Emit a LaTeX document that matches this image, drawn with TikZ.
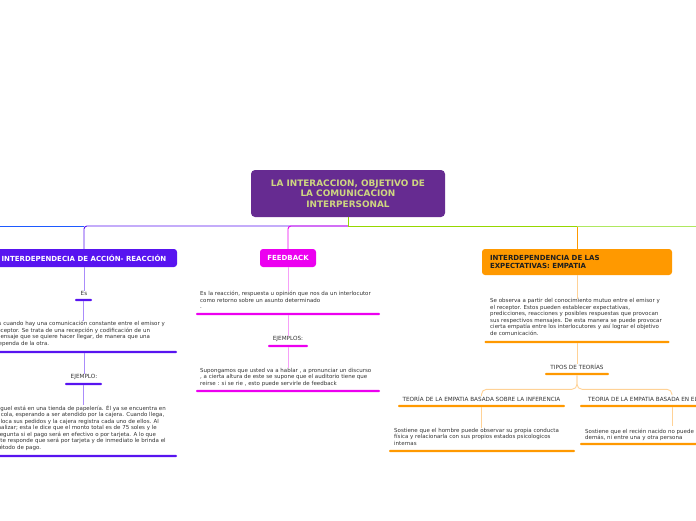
\documentclass[tikz,border=0pt]{standalone}
\usepackage{fontspec}
\setmainfont{DejaVu Sans}
\usetikzlibrary{calc}
\definecolor{cpurple}{RGB}{102,43,145}
\definecolor{ctext}{RGB}{206,214,128}
\definecolor{cviolet}{RGB}{88,20,240}
\definecolor{lviolet}{RGB}{170,140,250}
\definecolor{cmag}{RGB}{236,0,240}
\definecolor{lmag}{RGB}{246,160,248}
\definecolor{corange}{RGB}{255,153,0}
\definecolor{lorange}{RGB}{255,210,150}
\definecolor{cgreen}{RGB}{150,215,0}
\definecolor{lgreen}{RGB}{175,232,95}
\definecolor{cblue}{RGB}{30,90,255}
\definecolor{ctxt}{RGB}{50,50,50}
\begin{document}
\begin{tikzpicture}[x=1pt,y=-1pt,
  txt/.style={font=\fontsize{5.5}{6.5}\selectfont, text=ctxt, inner sep=0, align=left, anchor=north west},
  lbl/.style={font=\fontsize{5.7}{6.5}\selectfont, text=ctxt, inner sep=0},
  bar/.style={fill=#1, draw=none, inner sep=0, minimum height=2.2pt, rounded corners=1pt},
  topic/.style={fill=#1, draw=none, rounded corners=3pt, inner sep=0, font=\bfseries\fontsize{7}{8.2}\selectfont},
  main/.style={line width=0.9pt},
  sub/.style={line width=0.9pt}
]
\useasboundingbox (0,0) rectangle (696,520);
\clip (0,0) rectangle (696,520);

% root
\node[fill=cpurple, rounded corners=4pt, minimum width=194pt, minimum height=47pt,
  inner sep=0, text=ctext, align=center, font=\bfseries\fontsize{8.9}{10.6}\selectfont]
  (root) at (348,193.5) {LA INTERACCION, OBJETIVO DE\\LA COMUNICACION\\INTERPERSONAL};

% main topics
\node[topic=cviolet, text=white, minimum width=186pt, minimum height=18pt] (n1) at (84,258) {INTERDEPENDECIA DE ACCIÓN- REACCIÓN};
\node[topic=cmag, text=white, minimum width=56pt, minimum height=18pt] (fb) at (288,258) {FEEDBACK};
\node[topic=corange, text=ctxt!60!black, minimum width=190pt, minimum height=26pt, text width=174pt, align=left] (n3) at (577,262) {INTERDEPENDENCIA DE LAS\\EXPECTATIVAS: EMPATIA};

% main connectors
\coordinate (hub) at (348,226);
\coordinate (leftend) at (0,226);
\coordinate (rightend) at (696,226);
\coordinate (j1) at (84,226);
\coordinate (j3) at (577,226);
\draw[main, cblue] (j1) -- (leftend);
\draw[main, cviolet, rounded corners=3pt] (hub) -| (n1.north);
\draw[main, cmag, rounded corners=3pt] (hub) -| (fb.north);
\draw[main, corange] (j3) -- (n3.north);
\draw[main, lgreen] (j3) -- (rightend);
\draw[main, cgreen] (root.south) -- (hub) -- (j3);

% left branch
\node[lbl] (es) at (84,293) {Es};
\node[bar=cviolet, minimum width=17pt] (esb) at (83.5,300) {};
\node[txt] (p1) at (-5,321) {Es cuando hay una comunicación constante entre el emisor y\\receptor. Se trata de una recepción y codificación de un\\mensaje que se quiere hacer llegar, de manera que una\\dependa de la otra.};
\node[bar=cviolet, minimum width=186pt] (p1b) at (84,352) {};
\node[lbl] (ej1) at (84,377) {EJEMPLO:};
\node[bar=cviolet, minimum width=37pt] (ej1b) at (83.5,384) {};
\node[txt] (p2) at (-6,405) {Miguel está en una tienda de papelería. Él ya se encuentra en\\la cola, esperando a ser atendido por la cajera. Cuando llega,\\coloca sus pedidos y la cajera registra cada uno de ellos. Al\\finalizar; esta le dice que el monto total es de 75 soles y le\\pregunta si el pago será en efectivo o por tarjeta. A lo que\\éste responde que será por tarjeta y de inmediato le brinda el\\método de pago.};
\node[bar=cviolet, minimum width=186pt] (p2b) at (84,456) {};
\draw[sub, lviolet] (n1.south) -- (es.north);
\draw[sub, lviolet] (esb.south) -- (esb.south |- p1.north);
\draw[sub, lviolet] (p1b.south) -- (ej1.north);
\draw[sub, lviolet] (ej1b.south) -- (ej1b.south |- p2.north);

% feedback branch
\node[txt] (p3) at (200,291) {Es la reacción, respuesta u opinión que nos da un interlocutor\\como retorno sobre un asunto determinado\\.};
\node[bar=cmag, minimum width=184pt] (p3b) at (288,314) {};
\node[lbl] (ej2) at (288,339) {EJEMPLOS:};
\node[bar=cmag, minimum width=40pt] (ej2b) at (288,346) {};
\node[txt] (p4) at (200,368) {Supongamos que usted va a hablar , a pronunciar un discurso\\, a cierta altura de este se supone que el auditorio tiene que\\reirse : si se rie , esto puede servirle de feedback};
\node[bar=cmag, minimum width=184pt] (p4b) at (288,391) {};
\draw[sub, lmag] (fb.south) -- (fb.south |- p3.north);
\draw[sub, lmag] (p3b.south) -- (ej2.north);
\draw[sub, lmag] (ej2b.south) -- (ej2b.south |- p4.north);

% empathy branch
\node[txt] (p5) at (490,298.5) {Se observa a partir del conocimiento mutuo entre el emisor y\\el receptor. Estos pueden establecer expectativas,\\predicciones, reacciones y posibles respuestas que provocan\\sus respectivos mensajes. De esta manera se puede provocar\\cierta empatía entre los interlocutores y así lograr el objetivo\\de comunicación.};
\node[bar=corange, minimum width=185pt] (p5b) at (577,342) {};
\node[lbl] (tipos) at (577,367) {TIPOS DE TEORÍAS};
\node[bar=corange, minimum width=64pt] (tb) at (577,374) {};
\node[lbl] (c1) at (481.5,399) {TEORÍA DE LA EMPATIA BASADA SOBRE LA INFERENCIA};
\node[bar=corange, minimum width=167pt] (c1b) at (481.5,406) {};
\node[lbl, anchor=west] (c2) at (588,399) {TEORIA DE LA EMPATIA BASADA EN EL};
\node[bar=corange, minimum width=184pt] (c2b) at (672,406) {};
\coordinate (c2top) at (672,395);
\node[txt] (p6) at (394,428) {Sostiene que el hombre puede observar su propia conducta\\física y relacionarla con sus propios estados psicologicos\\internas};
\node[bar=corange, minimum width=186pt] (p6b) at (482,451) {};
\node[txt] (p7) at (585,428.5) {Sostiene que el recién nacido no puede\\demás, ni entre una y otra persona};
\node[bar=corange, minimum width=184pt] (p7b) at (672,444) {};
\coordinate (p7top) at (672,426);
\draw[sub, lorange] (n3.south) -- (n3.south |- p5.north);
\draw[sub, lorange] (p5b.south) -- (tipos.north);
\draw[sub, lorange, rounded corners=5pt] (tb.south) -- ++(0,14) -| (c1.north);
\draw[sub, lorange, rounded corners=5pt] (tb.south) -- ++(0,14) -| (c2top);
\draw[sub, lorange] (c1b.south) -- (c1b.south |- p6.north);
\draw[sub, lorange] (c2b.south) -- (p7top);
\end{tikzpicture}
\end{document}
